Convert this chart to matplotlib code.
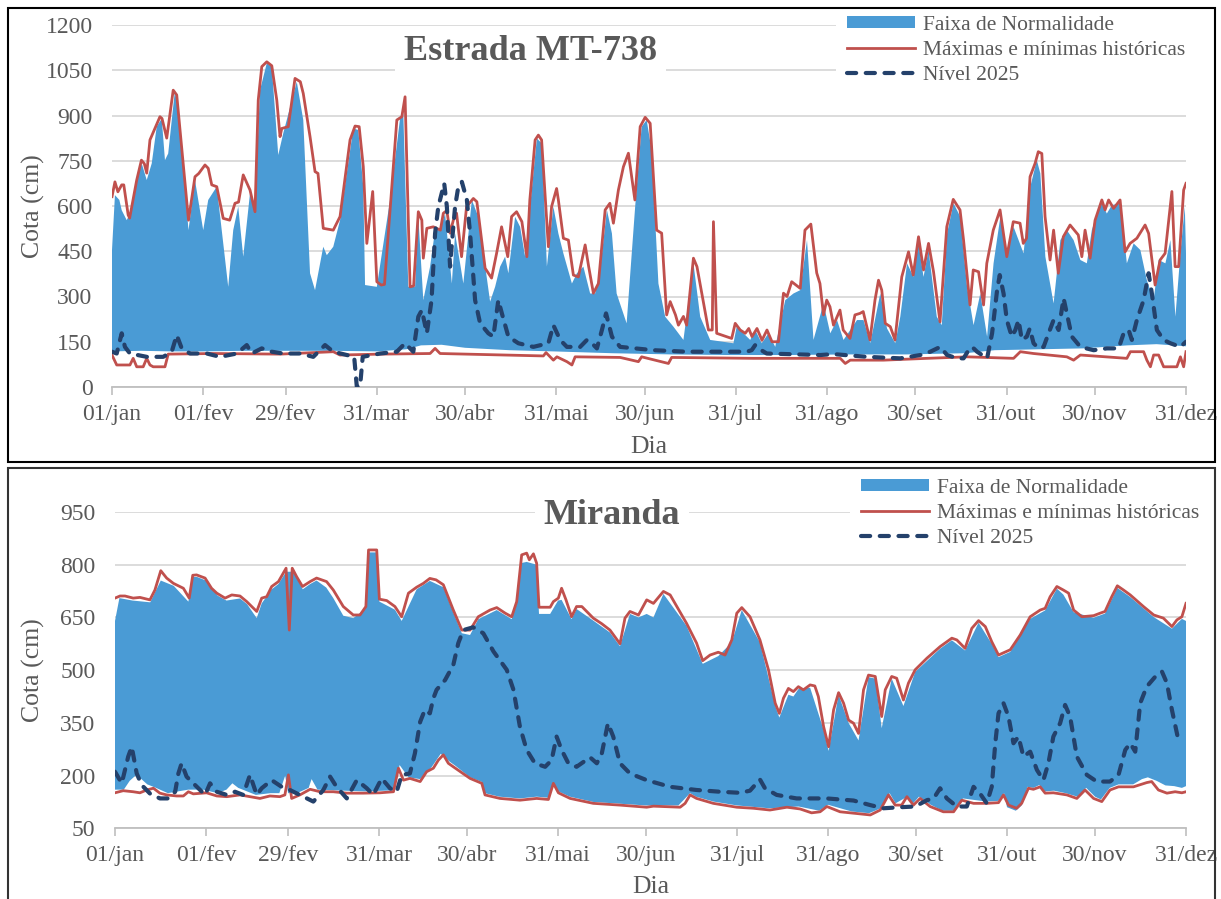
import matplotlib.pyplot as plt
import numpy as np
from matplotlib.patches import Rectangle

plt.rcParams["font.family"] = ["Liberation Serif", "DejaVu Serif"]

MONTH_DAYS = [0, 31, 59, 90, 120, 151, 181, 212, 243, 273, 304, 334, 365]
MONTH_LABELS = ["01/jan", "01/fev", "29/fev", "31/mar", "30/abr", "31/mai",
                "30/jun", "31/jul", "31/ago", "30/set", "31/out", "30/nov", "31/dez"]

# ---- Estrada MT-738 : (day of year, cota cm) ----
mt_max = [(0, 631), (1, 680), (2, 647), (3.3, 670), (4, 670), (5.5, 570), (6, 560), (8.4, 686), (10, 752),
          (11, 740), (11.8, 709), (12.9, 819), (16.3, 896), (17, 890), (18.6, 825), (20.8, 984), (22, 968),
          (24.3, 730), (26, 553), (28.2, 697), (29.5, 708), (31.6, 736), (32.7, 725), (33.9, 670), (35.6, 664),
          (37.8, 559), (40, 553), (41.8, 609), (43, 613), (44.6, 703), (46.9, 653), (48.6, 581), (49.7, 951),
          (50.9, 1062), (52.6, 1078), (54.3, 1065), (56, 951), (57.1, 830), (57.7, 857), (59.9, 863),
          (62.2, 1023), (64, 1012), (65, 973), (67.3, 830), (69, 714), (70, 708), (71.8, 526), (75.2, 520),
          (77.5, 565), (80.9, 819), (82.6, 865), (84, 863), (85.4, 730), (86.6, 476), (88.6, 648), (90, 349),
          (91.5, 338), (92.6, 340), (96.8, 885), (98.5, 896), (99.6, 962), (101.3, 332), (102.5, 335),
          (104.1, 581), (105.3, 553), (105.8, 427), (107, 526), (109.2, 531), (111.6, 520), (112.6, 576),
          (113.8, 585), (114.9, 510), (116, 553), (117.1, 576), (118.8, 432), (120.5, 598), (122.8, 625),
          (124, 614), (126.8, 394), (129, 361), (130.7, 443), (132.4, 531), (134.5, 432), (135.8, 565),
          (137.5, 581), (139.3, 548), (141, 432), (142, 620), (143.8, 819), (144.9, 835), (146, 819),
          (148.3, 465), (149.4, 598), (151.1, 658), (151.7, 620), (153.4, 493), (155.1, 487), (156.8, 371),
          (158.5, 365), (160.8, 471), (162, 399), (163.6, 311), (165.3, 343), (167.6, 587), (169.2, 609),
          (170.4, 543), (172.1, 653), (173.8, 730), (175.5, 775), (177.7, 620), (179.5, 863), (181.2, 894),
          (182.9, 874), (185.1, 520), (186.8, 510), (188.5, 239), (189.7, 283), (191.5, 239), (192.5, 205),
          (194.2, 234), (195.3, 205), (197.6, 427), (198.8, 399), (202.7, 189), (204, 189), (204.4, 548),
          (205.5, 178), (210.6, 161), (211.8, 211), (213.5, 189), (215.2, 178), (216.4, 194), (217.5, 167),
          (219.2, 194), (220.9, 155), (222.6, 189), (224.3, 150), (226.5, 150), (228.2, 311), (229.4, 300),
          (231, 349), (233.9, 327), (235.5, 520), (237.5, 540), (239.5, 378), (240.6, 343), (241.8, 239),
          (242.9, 288), (244, 266), (245.2, 205), (247.4, 255), (248.5, 189), (250.8, 161), (252.5, 239),
          (254.2, 244), (255.3, 250), (257.6, 156), (259.3, 288), (260.5, 354), (261.6, 321), (262.8, 211),
          (264.5, 200), (266.1, 156), (268.4, 365), (270.7, 448), (272.3, 371), (274.1, 498), (275.8, 388),
          (277.5, 476), (279.2, 382), (281.4, 216), (283.7, 531), (285.9, 622), (288.2, 587), (289.4, 487),
          (291.6, 272), (292.7, 388), (294.5, 382), (296.2, 272), (297.3, 410), (299.5, 520), (301.8, 587),
          (304.1, 432), (306.3, 548), (308.6, 543), (309.7, 476), (310.8, 493), (312, 697), (313.7, 741),
          (314.8, 780), (316, 774), (317.1, 565), (318.8, 421), (320, 520), (321.6, 377), (323.3, 498),
          (325.6, 537), (328.4, 504), (329.6, 432), (330.7, 520), (332.4, 427), (334.1, 553), (336.4, 620),
          (337.5, 587), (338.7, 620), (340.4, 592), (342.6, 620), (344.3, 448), (346, 476), (348.3, 493),
          (351.1, 537), (352.3, 509), (354.5, 338), (356.2, 421), (357.9, 443), (360.2, 648), (361.3, 399),
          (362.5, 399), (364.2, 653), (365, 675)]

mt_min = [(0, 106), (1.6, 73), (6.1, 73), (7.2, 95), (8.4, 67), (10.6, 67), (11.8, 95), (12.9, 73), (14, 67),
          (18, 67), (19.1, 109), (34.4, 111), (57.1, 109), (75.2, 117), (77.5, 106), (91.1, 109), (108.1, 111),
          (109.8, 128), (111.5, 111), (146.6, 103), (147.5, 114), (148.9, 100), (150, 89), (151.2, 100),
          (154.6, 84), (156.3, 73), (157.4, 100), (172.7, 98), (178.9, 84), (180, 100), (189.1, 78),
          (190.2, 98), (218, 95), (247.5, 95), (249.2, 78), (250.9, 89), (262.2, 89), (277, 95), (290.6, 100),
          (306.4, 95), (308.7, 117), (313.2, 111), (324.5, 100), (326.8, 89), (329.1, 106), (344.9, 95),
          (346.1, 117), (350.6, 117), (351.7, 89), (352.9, 67), (354, 106), (355.7, 106), (357.4, 67),
          (361.9, 67), (363.1, 100), (364.2, 67), (365, 117)]

mt_hi = [(0, 454), (1, 636), (2.5, 620), (3.3, 586), (5, 553), (6.1, 575), (8.4, 686), (10.1, 741), (11.8, 686),
         (13.5, 741), (15.2, 863), (16.9, 890), (18, 752), (19.1, 774), (21.4, 984), (23.1, 863), (26, 520),
         (28.2, 686), (31, 520), (32.7, 620), (35.6, 664), (39.5, 332), (41.2, 520), (42.9, 598), (44.6, 432),
         (46.9, 642), (48.6, 598), (50.3, 984), (52.6, 1073), (54.3, 1062), (56.5, 769), (58.2, 841),
         (62.8, 1012), (65, 885), (67.3, 377), (69, 321), (71.8, 465), (73, 437), (75.2, 465), (77.5, 553),
         (82, 857), (83.7, 852), (85.4, 664), (86, 338), (90, 332), (94.5, 620), (97.9, 890), (99, 907),
         (100.7, 332), (103, 332), (104.1, 564), (105.8, 288), (108.1, 399), (109.8, 520), (111.5, 520),
         (113.2, 575), (115.5, 343), (116.6, 509), (118.3, 410), (119.4, 343), (122.3, 620), (124.5, 564),
         (128.5, 283), (130.2, 332), (131.9, 399), (133.6, 432), (134.7, 377), (137, 564), (138.7, 531),
         (140.4, 432), (142.1, 598), (144.4, 824), (146.1, 807), (147.8, 399), (150, 598), (151.7, 509),
         (153.4, 443), (156.3, 343), (158, 377), (160.2, 399), (162.5, 310), (164.2, 310), (165.9, 388),
         (168.2, 587), (169.9, 509), (171.5, 310), (174.9, 211), (177.8, 598), (180, 863), (181.7, 885),
         (183.4, 785), (185.7, 343), (188, 233), (190.8, 200), (194.2, 156), (197.6, 410), (199.9, 233),
         (203.3, 156), (211.2, 145), (212.3, 200), (216.9, 156), (218.6, 189), (220.8, 145), (223.1, 178),
         (225.4, 133), (228.8, 288), (231.6, 310), (233.9, 321), (236.2, 487), (238.4, 156), (241.8, 277),
         (244.1, 178), (246.4, 222), (248.6, 156), (253.2, 222), (255.4, 222), (257.7, 145), (261.1, 310),
         (263.4, 194), (266.2, 145), (267.9, 233), (270.2, 410), (272.4, 365), (274.1, 476), (275.8, 365),
         (277.5, 454), (280.3, 233), (282, 205), (283.8, 509), (286, 609), (288.3, 564), (290.6, 332),
         (292.8, 205), (295.1, 310), (297.4, 167), (299.6, 410), (301.9, 564), (304.1, 432), (306.4, 531),
         (308.1, 487), (309.8, 443), (312.1, 664), (314.3, 752), (315.5, 708), (317.2, 432), (320, 277),
         (322.3, 487), (324.5, 520), (326.8, 487), (329.1, 421), (331.3, 410), (333, 520), (334.7, 575),
         (336.4, 609), (338.1, 575), (339.8, 603), (342.7, 609), (344.9, 410), (347.2, 476), (349.5, 454),
         (351.7, 354), (354, 288), (355.7, 421), (358, 410), (359.7, 487), (361.4, 233), (363.1, 443),
         (364.6, 598), (365, 443)]

mt_lo = [(0, 118), (10, 120), (20, 118), (30, 118), (45, 120), (60, 120), (75, 120), (90, 118), (100, 125),
         (105, 138), (112, 140), (120, 130), (135, 122), (150, 118), (170, 112), (190, 108), (210, 106),
         (230, 106), (250, 108), (270, 108), (290, 112), (300, 122), (315, 125), (330, 128), (345, 138),
         (355, 142), (365, 135)]

mt_2025 = [(0, 117), (1.6, 111), (3.3, 178), (4.4, 133), (6.1, 111), (11.8, 100), (17.4, 100), (20.3, 117),
           (22, 172), (23.7, 128), (26.5, 111), (32.2, 111), (36.7, 100), (42.4, 111), (45.8, 139), (47.5, 111),
           (50.9, 128), (54.3, 117), (58.2, 111), (63.9, 111), (68.4, 100), (72.4, 139), (75.2, 117),
           (79.8, 106), (82.3, 100), (83.2, 1), (84.3, 1), (85.2, 100), (91.1, 111), (96.8, 117), (99.6, 145),
           (102.4, 117), (104.1, 233), (105.3, 255), (107, 178), (108.6, 288), (109.8, 509), (110.9, 598),
           (112.9, 675), (113.8, 598), (114.9, 399), (115.8, 509), (116.6, 598), (117.7, 664), (118.9, 680),
           (120.6, 620), (121.7, 509), (123.4, 288), (125.1, 211), (127.9, 178), (129.6, 167), (131.3, 288),
           (132.5, 244), (134.7, 167), (138.1, 145), (143.2, 133), (148.3, 145), (150, 205), (152.3, 156),
           (154.6, 133), (159.1, 133), (161.4, 156), (163.1, 145), (164.8, 128), (166.5, 189), (167.9, 244),
           (169.9, 167), (172.7, 133), (184, 122), (195.3, 117), (215.7, 117), (217.4, 122), (218.6, 139),
           (219.7, 128), (222.5, 111), (240.7, 106), (245.2, 109), (256.6, 100), (267.9, 95), (274.7, 106),
           (278.1, 117), (281.5, 133), (283.8, 106), (287.2, 95), (289.4, 95), (291.1, 122), (292.3, 133),
           (294, 117), (297.4, 95), (299.1, 178), (300.8, 321), (301.7, 371), (303, 310), (304.1, 222),
           (305.8, 167), (307, 189), (308.1, 222), (309.2, 156), (310.9, 167), (311.9, 194), (313.2, 145),
           (314.9, 128), (316.6, 133), (318.3, 178), (320, 222), (321.7, 189), (323.4, 294), (324.5, 244),
           (326.2, 167), (329.1, 133), (333.6, 122), (338.1, 128), (342.1, 128), (343.8, 178), (345.5, 189),
           (346.6, 156), (348.3, 222), (350.6, 288), (352.3, 377), (353.4, 310), (355.1, 189), (357.4, 156),
           (359.7, 145), (363.1, 133), (365, 150)]

# ---- Miranda ----
mir_max = [(0, 705), (1.7, 711), (3.4, 711), (6.2, 705), (8.5, 707), (11.9, 700), (13.6, 728), (15.6, 783),
           (17.6, 762), (19.9, 747), (23.3, 733), (25.3, 705), (26.5, 770), (27.8, 771), (30.7, 762), (32.9, 733),
           (34.7, 719), (37.5, 705), (39.8, 714), (42.6, 711), (44.9, 695), (48.3, 667), (50, 705), (51.7, 709),
           (53.4, 738), (55.7, 752), (58.3, 790), (59.4, 614), (60.4, 790), (61.9, 766), (63.9, 738), (66.5, 752),
           (68.7, 762), (72.1, 752), (74.4, 728), (77.8, 681), (81.2, 657), (83.5, 657), (85.5, 681), (86.4, 842),
           (89.2, 842), (90.1, 702), (92.6, 698), (95.4, 681), (97.7, 652), (100, 719), (102.8, 736),
           (105.1, 747), (107.3, 761), (109.4, 757), (111.9, 743), (115.3, 671), (118.2, 614), (121, 614),
           (123.8, 652), (127.8, 671), (130.1, 678), (133, 662), (135.2, 652), (136.9, 695), (138.6, 828),
           (140.3, 833), (141.2, 814), (142.6, 831), (143.7, 804), (144.5, 679), (148.3, 679), (149.4, 695),
           (151.1, 705), (152.2, 733), (153.7, 700), (155.6, 652), (157.3, 681), (159.1, 681), (163, 648),
           (165.9, 632), (168.7, 614), (172.1, 575), (173.8, 648), (175.5, 667), (178.4, 657), (181.2, 700),
           (183.5, 690), (186.9, 724), (189.2, 714), (194.8, 633), (198.2, 577), (200.3, 527), (202.8, 543),
           (205.6, 551), (207.9, 543), (210.2, 586), (211.9, 662), (213.6, 678), (216.4, 652), (219.8, 586),
           (222.7, 501), (225, 406), (226.4, 377), (227.8, 420), (229.5, 448), (231.2, 439), (232.9, 453),
           (234.6, 444), (236.9, 458), (238.5, 455), (239.7, 425), (241.5, 339), (243.2, 282), (244.9, 387),
           (246.6, 436), (248.3, 406), (250, 358), (251.7, 349), (253.4, 320), (255.1, 444), (256.8, 486),
           (259.1, 482), (261.3, 368), (262.5, 444), (264.7, 482), (266.4, 477), (268.7, 415), (270.4, 463),
           (272.7, 501), (276.7, 534), (281.2, 567), (285.2, 591), (286.9, 586), (289.7, 562), (292, 619),
           (294.3, 641), (296.6, 624), (298.8, 581), (301.1, 543), (305.1, 558), (308.5, 600), (311.9, 652),
           (315.3, 671), (317, 676), (318.7, 709), (321, 738), (323.2, 728), (325, 719), (326.7, 671),
           (329.5, 652), (333.5, 655), (335.7, 662), (337.4, 667), (339.7, 709), (341.6, 740), (343.7, 728),
           (346, 714), (350.5, 681), (354, 657), (357.3, 648), (360.2, 624), (361.9, 643), (363.6, 652),
           (365, 690)]

mir_min = [(0, 151), (2.8, 157), (6.2, 154), (8.5, 151), (10.8, 159), (13.1, 164), (15.3, 150), (17.6, 145),
           (21, 142), (23.3, 142), (25, 154), (26.7, 148), (31.2, 151), (34.7, 142), (38.1, 140), (42.6, 145),
           (46, 140), (49.4, 135), (52.8, 142), (56.2, 140), (57.9, 145), (59.1, 202), (60.2, 135), (63, 145),
           (66.5, 161), (69.9, 154), (74.4, 154), (79, 150), (84.6, 150), (90.3, 151), (94.9, 154), (96.6, 221),
           (98.3, 187), (100.5, 192), (104, 183), (106.2, 211), (108.5, 221), (110.2, 244), (111.9, 259),
           (113.6, 235), (115.3, 225), (121, 192), (125, 178), (126.1, 145), (131.2, 135), (138, 130),
           (143.7, 135), (147.7, 132), (149.4, 178), (151.1, 151), (155.1, 135), (163, 121), (172.1, 116),
           (181.2, 110), (183.5, 113), (192.6, 110), (194.3, 121), (196, 145), (198.2, 135), (203.9, 121),
           (211.9, 110), (217.6, 107), (223.2, 102), (229, 110), (233.5, 105), (237.4, 94), (240.3, 97),
           (242.6, 112), (247.1, 97), (251.7, 93), (257.4, 88), (260.8, 102), (263.6, 145), (265.9, 116),
           (268.1, 116), (269.9, 140), (272.1, 116), (274.4, 135), (277.8, 112), (282.3, 97), (285.8, 97),
           (288.6, 130), (292.6, 121), (297.1, 121), (301.1, 123), (302.8, 145), (304.5, 116), (307.3, 107),
           (309, 121), (311.3, 164), (313, 161), (315.3, 168), (317, 150), (319.8, 151), (324.4, 145),
           (327.8, 135), (330.6, 159), (333.5, 135), (336.3, 126), (339.1, 159), (342, 168), (347.1, 168),
           (351.6, 180), (353.3, 183), (355.6, 159), (358.5, 150), (361.3, 154), (363.6, 151), (365, 154)]

mir_hi = [(0, 640), (1.5, 705), (6, 698), (12, 693), (15.6, 755), (20, 740), (25, 695), (26.5, 765), (28, 765),
          (31, 755), (35, 712), (38, 698), (42.6, 704), (45, 688), (48.3, 648), (50, 690), (53.4, 730),
          (55.7, 745), (58.3, 780), (61, 780), (64, 730), (66.5, 745), (68.7, 755), (72, 735), (74.4, 705),
          (77.8, 655), (81.2, 648), (85.5, 675), (86.4, 835), (89.2, 835), (90.1, 695), (95.4, 672),
          (97.7, 640), (102.8, 730), (107.3, 754), (111.9, 736), (115.3, 664), (118.2, 605), (121, 600),
          (123.8, 645), (130.1, 671), (135.2, 645), (136.9, 688), (138.6, 805), (140.3, 808), (143.7, 800),
          (144.5, 660), (148.3, 660), (151, 698), (152.2, 700), (155.6, 645), (157.3, 674), (163, 641),
          (168.7, 607), (172.1, 568), (175.5, 660), (178.4, 650), (181.2, 660), (183.5, 650), (186.9, 717),
          (194.8, 626), (200.3, 518), (205.6, 540), (210.2, 579), (213.6, 671), (219.8, 579), (225, 399),
          (226.4, 365), (229.5, 430), (231.2, 425), (232.9, 446), (236.9, 450), (241.5, 330), (243.2, 270),
          (246.6, 430), (250, 350), (253.4, 300), (256.8, 480), (259.1, 476), (261.3, 335), (264.7, 476),
          (268.7, 398), (272.7, 495), (281.2, 561), (285.2, 585), (289.7, 556), (294.3, 635), (298.8, 575),
          (301.1, 537), (305.1, 552), (311.9, 646), (317, 670), (321, 732), (323.2, 715), (326.7, 665),
          (333.5, 649), (337.4, 661), (341.6, 734), (346, 708), (354, 651), (360.2, 618), (363.6, 646),
          (365, 640)]

mir_lo = [(0, 160), (3, 160), (5, 185), (7, 200), (9, 190), (11, 175), (14, 165), (18, 150), (25, 160), (30, 160),
          (35, 150), (38, 160), (40, 178), (42, 165), (48, 145), (53, 150), (56, 150), (58, 200), (59, 150),
          (62, 150), (66, 165), (67, 190), (69, 160), (75, 158), (85, 155), (95, 158), (97, 230), (100, 195),
          (104, 190), (108, 225), (111, 262), (114, 240), (116, 228), (121, 195), (125, 182), (126, 150),
          (131, 140), (138, 135), (143.7, 140), (147.7, 137), (149.4, 180), (151.1, 155), (155, 140),
          (163, 125), (172, 120), (181, 115), (192, 115), (196, 150), (198, 140), (204, 126), (212, 115),
          (223, 107), (233, 112), (240, 100), (243, 117), (251, 98), (257, 93), (261, 107), (264, 150),
          (266, 121), (270, 140), (272, 121), (274, 140), (278, 117), (282, 100), (286, 100), (289, 135),
          (297, 126), (301, 128), (303, 150), (304, 110), (307, 100), (309, 115), (311, 168), (313, 165),
          (315, 173), (317, 155), (320, 157), (324, 150), (328, 140), (331, 165), (334, 140), (336, 132),
          (339, 165), (342, 175), (347, 175), (350, 190), (352, 195), (355, 185), (358, 172), (361, 170),
          (363.6, 165), (365, 170)]

mir_2025 = [(0, 211), (2.3, 178), (4.5, 254), (5.7, 282), (7.4, 206), (9.1, 173), (11.9, 149), (15.3, 135),
            (18.2, 135), (20.5, 154), (21.6, 206), (22.7, 235), (24.4, 197), (27.3, 173), (30.7, 145), (32.4, 178),
            (34.7, 154), (38.1, 145), (40.9, 154), (43.7, 145), (46, 202), (48.3, 145), (50, 164), (53.4, 187),
            (56.8, 168), (59.6, 159), (63, 145), (67.6, 126), (71, 159), (73.3, 197), (75.5, 168), (79, 135),
            (82.4, 187), (85.8, 164), (88, 145), (90.9, 192), (93.7, 164), (96, 154), (97.7, 202), (100.5, 206),
            (102.2, 263), (104, 353), (105.6, 387), (107.3, 377), (108.5, 420), (109.6, 444), (112.5, 472),
            (115.3, 515), (117, 577), (118.7, 614), (122.1, 622), (125.5, 605), (129, 553), (133.5, 501),
            (135.8, 444), (138, 339), (140.3, 273), (143.1, 235), (146.6, 225), (148.8, 244), (150.5, 311),
            (152.2, 273), (154.5, 235), (157.3, 225), (161.9, 252), (164.2, 235), (165.9, 263), (168, 349),
            (169.8, 311), (172.1, 235), (175.5, 206), (181.2, 187), (189.2, 168), (198.2, 159), (206.2, 154),
            (213, 151), (216.4, 157), (219.8, 189), (221.5, 164), (225.5, 145), (232.3, 135), (242.6, 135),
            (251.7, 129), (257.4, 116), (261.9, 107), (267.6, 110), (272.7, 112), (276.7, 130), (279, 135),
            (281.2, 164), (283.5, 135), (286.9, 112), (290.3, 112), (292.6, 168), (294.8, 149), (297.1, 121),
            (298.8, 168), (300, 292), (301.1, 377), (302.8, 406), (304.5, 368), (306.2, 292), (307.9, 311),
            (309.6, 254), (311.9, 268), (314.2, 216), (316.4, 187), (318.1, 235), (319.8, 311), (322.1, 349),
            (323.8, 401), (325.5, 368), (327.8, 254), (331.2, 202), (334.6, 183), (339.1, 183), (342, 202),
            (344.3, 273), (346, 292), (347.7, 268), (349.4, 406), (351.6, 453), (355, 486), (356.8, 496),
            (358.5, 463), (360.2, 387), (362.4, 301)]

FILL = "#4A9BD5"
RED = "#C0504D"
NAVY = "#24416B"
TXT = "#595959"
GRID = "#D9D9D9"
AXIS = "#BFBFBF"

W, H = 1221, 899


def xy(pairs):
    a = np.asarray(pairs, dtype=float)
    return a[:, 0], a[:, 1]


def draw_panel(ax, title, title_pos, hi, lo, vmax, vmin, lvl, yticks, legend_xy, label_xy):
    hd, hv = xy(hi)
    ld, lv = xy(lo)
    ax.fill(np.r_[hd, ld[::-1]], np.r_[hv, lv[::-1]], color=FILL, lw=0,
            label="Faixa de Normalidade", zorder=2)
    d, v = xy(vmax)
    ax.plot(d, v, color=RED, lw=2.0, label="Máximas e mínimas históricas", zorder=3)
    d, v = xy(vmin)
    ax.plot(d, v, color=RED, lw=2.0, zorder=3)
    d, v = xy(lvl)
    ax.plot(d, v, color=NAVY, lw=3.0, dashes=(2.2, 2.3), dash_capstyle="round",
            label="Nível 2025", zorder=4)

    ax.set_xlim(0, 365)
    ax.set_ylim(yticks[0], yticks[-1])
    ax.set_yticks(yticks)
    ax.set_xticks(MONTH_DAYS)
    ax.set_xticklabels(MONTH_LABELS)
    ax.grid(axis="y", color=GRID, lw=1.3)
    ax.set_axisbelow(True)
    for s in ("left", "right", "top"):
        ax.spines[s].set_visible(False)
    ax.spines["bottom"].set_color(AXIS)
    ax.spines["bottom"].set_linewidth(1.3)
    ax.tick_params(axis="x", length=6, width=1.2, color=AXIS, pad=6, labelsize=17, labelcolor=TXT)
    ax.tick_params(axis="y", length=0, pad=14, labelsize=17, labelcolor=TXT)

    ax.set_ylabel("Cota (cm)", fontsize=18.5, color=TXT)
    ax.set_xlabel("Dia", fontsize=18.5, color=TXT)
    ax.yaxis.set_label_coords(*label_xy[0])
    ax.xaxis.set_label_coords(*label_xy[1])

    ax.text(title_pos[0], title_pos[1], title, transform=ax.transAxes, ha="center", va="center",
            fontsize=26, fontweight="bold", color=TXT, zorder=6,
            bbox=dict(facecolor="white", edgecolor="none", boxstyle="square,pad=0.25"))

    leg = ax.legend(loc="upper left", bbox_to_anchor=legend_xy, bbox_transform=ax.figure.transFigure,
                    fontsize=15.5, frameon=True, fancybox=False, borderaxespad=0, borderpad=0.5,
                    handlelength=3.16, handleheight=0.5, handletextpad=0.37, labelspacing=0.28)
    leg.get_frame().set_facecolor("white")
    leg.get_frame().set_edgecolor("none")
    leg.get_frame().set_alpha(1)
    for t in leg.get_texts():
        t.set_color(TXT)


def main():
    fig = plt.figure(figsize=(W / 100, H / 100), dpi=100)

    ax1 = fig.add_axes([112 / W, 1 - 387 / H, (1186 - 112) / W, 362 / H])
    draw_panel(ax1, "Estrada MT-738", (0.390, 0.928), mt_hi, mt_lo, mt_max, mt_min, mt_2025,
               [0, 150, 300, 450, 600, 750, 900, 1050, 1200], (836 / W, 1 - 5 / H),
               ((-0.062, 0.5), (0.5, -0.135)))

    ax2 = fig.add_axes([115 / W, 1 - 828.3 / H, (1186 - 115) / W, 316.3 / H])
    draw_panel(ax2, "Miranda", (0.464, 0.99), mir_hi, mir_lo, mir_max, mir_min, mir_2025,
               [50, 200, 350, 500, 650, 800, 950], (850 / W, 1 - 468 / H),
               ((-0.065, 0.5), (0.5, -0.15)))

    # panel frames
    fig.add_artist(Rectangle((8 / W, 1 - 462 / H), (1215 - 8) / W, (462 - 8) / H,
                             transform=fig.transFigure, fill=False, ec="black", lw=1.5, zorder=10))
    fig.add_artist(Rectangle((8 / W, -0.02), (1215 - 8) / W, 1 - 468 / H + 0.02,
                             transform=fig.transFigure, fill=False, ec="#333333", lw=1.5, zorder=10))

    fig.savefig("out.png", dpi=100)
    plt.close(fig)


if __name__ == "__main__":
    main()
